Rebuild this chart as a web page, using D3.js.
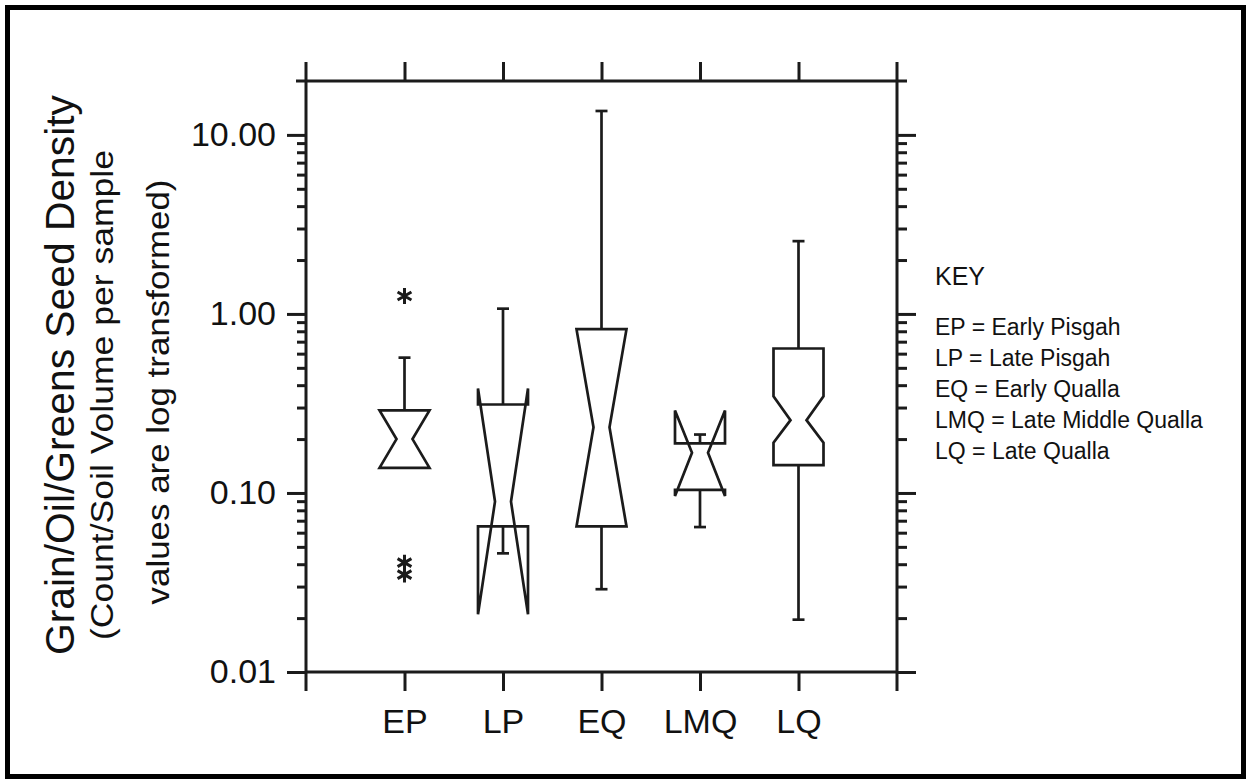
<!DOCTYPE html>
<html>
<head>
<meta charset="utf-8">
<script src="https://cdn.jsdelivr.net/npm/d3@7"></script>
<style>
  body { margin: 0; background: #fff; }
  svg { display: block; }
  text { font-family: "Liberation Sans", Arial, sans-serif; fill: #111; }
</style>
</head>
<body>
<svg id="chart" width="1251" height="784"></svg>
<script>
// group names and box summaries (log scale)
var categories = ["EP", "LP", "EQ", "LMQ", "LQ"];
var whiskerLow  = [null,  0.046, 0.029, 0.0645, 0.0196];
var q1          = [0.138, 0.065, 0.065, 0.104,  0.143];
var medians     = [0.20,  0.0895, 0.233, 0.1675, 0.255];
var q3          = [0.289, 0.312, 0.822, 0.189,  0.641];
var whiskerHigh = [0.57,  1.07,  13.6,  0.212,  2.55];
var notchLow    = [0.138, 0.021, 0.065, 0.0962, 0.191];
var notchHigh   = [0.289, 0.383, 0.822, 0.289,  0.347];
var outliers    = [[1.26, 0.0408, 0.035], [], [], [], []];

var majorTicks = [0.01, 0.1, 1, 10];
var tickLabels = ["0.01", "0.10", "1.00", "10.00"];
var minorTicks = [];
[0.01, 0.1, 1].forEach(function(d) {
    for (var k = 2; k <= 9; k++) minorTicks.push(d * k);
});

var titleLines = ["Grain/Oil/Greens Seed Density",
                  "(Count/Soil Volume per sample",
                  "values are log transformed)"];
var keyLines = ["EP = Early Pisgah", "LP = Late Pisgah", "EQ = Early Qualla",
                "LMQ = Late Middle Qualla", "LQ = Late Qualla"];

var svg = d3.select('#chart');
var ink = '#1b1b1b';

// outer frame
svg.append('rect')
   .attr('x', 7.5).attr('y', 7.5)
   .attr('width', 1236).attr('height', 769)
   .attr('fill', 'none').attr('stroke', '#000').attr('stroke-width', 5);

var x = d3.scalePoint().domain(categories).range([306, 897]).padding(1);
var y = d3.scaleLog().domain([0.01, 20]).range([672, 81]);

var xLeft = x.range()[0], xRight = x.range()[1];
var yTop = y.range()[1], yBottom = y.range()[0];

// axes frame lines (they run past the corners)
var frame = svg.append('g').attr('stroke', ink).attr('stroke-width', 3);
frame.append('line').attr('x1', xLeft).attr('x2', xLeft).attr('y1', yTop - 19).attr('y2', yBottom + 19);
frame.append('line').attr('x1', xRight).attr('x2', xRight).attr('y1', yTop - 19).attr('y2', yBottom + 19);
frame.append('line').attr('x1', xLeft - 10).attr('x2', xRight + 10).attr('y1', yTop).attr('y2', yTop);
frame.append('line').attr('x1', xLeft).attr('x2', xRight).attr('y1', yBottom).attr('y2', yBottom);

function styleAxis(g) {
    g.select('.domain').remove();
    g.selectAll('.tick line').attr('stroke', ink).attr('stroke-width', 3);
}

// left axis
svg.append('g').attr('transform', 'translate(' + xLeft + ',0)')
   .call(d3.axisLeft(y).tickValues(majorTicks).tickSize(19).tickPadding(11)
         .tickFormat(function(d, i) { return tickLabels[i]; }))
   .call(styleAxis)
   .selectAll('text').attr('font-size', 34).style('font-family', '"Liberation Sans", Arial, sans-serif').attr('fill', '#111');
svg.append('g').attr('transform', 'translate(' + xLeft + ',0)')
   .call(d3.axisLeft(y).tickValues(minorTicks).tickSize(9).tickFormat(''))
   .call(styleAxis);

// right axis
svg.append('g').attr('transform', 'translate(' + xRight + ',0)')
   .call(d3.axisRight(y).tickValues(majorTicks).tickSize(19).tickFormat(''))
   .call(styleAxis);
svg.append('g').attr('transform', 'translate(' + xRight + ',0)')
   .call(d3.axisRight(y).tickValues(minorTicks).tickSize(10).tickFormat(''))
   .call(styleAxis);

// top and bottom axes
svg.append('g').attr('transform', 'translate(0,' + yTop + ')')
   .call(d3.axisTop(x).tickSize(19).tickFormat(''))
   .call(styleAxis);
svg.append('g').attr('transform', 'translate(0,' + yBottom + ')')
   .call(d3.axisBottom(x).tickSize(19).tickPadding(18))
   .call(styleAxis)
   .selectAll('text').attr('font-size', 34).style('font-family', '"Liberation Sans", Arial, sans-serif').attr('fill', '#111');

// boxes
var boxW = 25, notchW = 8, capW = 6;
var boxes = svg.append('g').attr('fill', 'none').attr('stroke', ink)
               .attr('stroke-width', 2.7).attr('stroke-linejoin', 'miter');

categories.forEach(function(c, i) {
    var cx = x(c);
    var pts = [
        [cx - boxW, y(q1[i])],
        [cx - boxW, y(notchLow[i])],
        [cx - notchW, y(medians[i])],
        [cx - boxW, y(notchHigh[i])],
        [cx - boxW, y(q3[i])],
        [cx + boxW, y(q3[i])],
        [cx + boxW, y(notchHigh[i])],
        [cx + notchW, y(medians[i])],
        [cx + boxW, y(notchLow[i])],
        [cx + boxW, y(q1[i])]
    ];
    boxes.append('path').attr('d', d3.line()(pts) + 'Z');

    // upper whisker
    boxes.append('line').attr('x1', cx).attr('x2', cx)
         .attr('y1', y(q3[i])).attr('y2', y(whiskerHigh[i]));
    boxes.append('line').attr('x1', cx - capW).attr('x2', cx + capW)
         .attr('y1', y(whiskerHigh[i])).attr('y2', y(whiskerHigh[i]));
    // lower whisker
    if (whiskerLow[i] != null) {
        boxes.append('line').attr('x1', cx).attr('x2', cx)
             .attr('y1', y(q1[i])).attr('y2', y(whiskerLow[i]));
        boxes.append('line').attr('x1', cx - capW).attr('x2', cx + capW)
             .attr('y1', y(whiskerLow[i])).attr('y2', y(whiskerLow[i]));
    }

    // outliers as asterisks
    outliers[i].forEach(function(v) {
        var r = 8, a = r * Math.cos(Math.PI / 6), b = r * Math.sin(Math.PI / 6);
        var oy = y(v);
        var p = 'M' + cx + ',' + (oy - r) + 'L' + cx + ',' + (oy + r) +
                'M' + (cx - a) + ',' + (oy - b) + 'L' + (cx + a) + ',' + (oy + b) +
                'M' + (cx - a) + ',' + (oy + b) + 'L' + (cx + a) + ',' + (oy - b);
        boxes.append('path').attr('d', p).attr('stroke-width', 3);
    });
});

// y title, rotated
var titleSizes = [40, 32, 31];
var titleX = [74, 113, 169];
var titleY = [375, 395, 392];
var titleLen = [560, 490, 425];
titleLines.forEach(function(t, i) {
    svg.append('text')
       .attr('transform', 'translate(' + titleX[i] + ',' + titleY[i] + ') rotate(-90)')
       .attr('text-anchor', 'middle')
       .attr('font-size', titleSizes[i])
       .attr('textLength', titleLen[i])
       .attr('lengthAdjust', 'spacingAndGlyphs')
       .text(t);
});

// key
svg.append('text').attr('x', 935).attr('y', 285).attr('font-size', 25).text('KEY');
keyLines.forEach(function(t, i) {
    svg.append('text').attr('x', 935).attr('y', 335 + i * 31)
       .attr('font-size', 23).text(t);
});
</script>
</body>
</html>
